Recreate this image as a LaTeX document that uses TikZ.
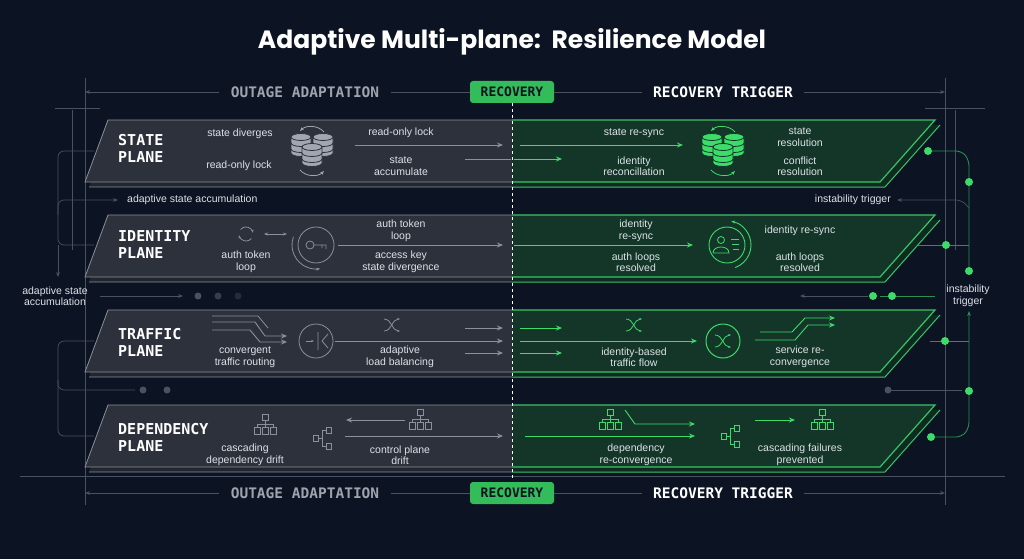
\documentclass[tikz,border=0pt]{standalone}
\usepackage{fontspec}
\setmainfont{Liberation Sans}
\newfontfamily\monofont{DejaVu Sans Mono}
\newfontfamily\titlefont{Poppins}
\usepackage{tikz}
\usetikzlibrary{arrows.meta}
\usetikzlibrary{positioning, calc}

\definecolor{bgnavy}{HTML}{0C1322}
\definecolor{planegray}{HTML}{2C313C}
\definecolor{shadegray}{HTML}{22262F}
\definecolor{edgegray}{HTML}{8A909C}
\definecolor{planegreen}{HTML}{133628}
\definecolor{shadegreen}{HTML}{0F2A20}
\definecolor{edgegreen}{HTML}{3BC466}
\definecolor{brightgreen}{HTML}{3DDC6A}
\definecolor{lighttext}{HTML}{DDE2E8}
\definecolor{dimline}{HTML}{4A5262}

\tikzset{
  txt/.style={text=lighttext, align=center, font=\fontsize{10.5}{11.5}\selectfont, inner sep=1pt},
  planelabel/.style={text=white, align=left, anchor=west, font=\monofont\bfseries\fontsize{15}{17}\selectfont, inner sep=0pt},
  headlabel/.style={text=lighttext!70!bgnavy, font=\monofont\bfseries\fontsize{14.5}{17}\selectfont},
  recbox/.style={fill=brightgreen!85!black, rounded corners=3pt, text=bgnavy, font=\monofont\bfseries\fontsize{13}{15}\selectfont, minimum width=84pt, minimum height=22pt},
  grayarr/.style={draw=edgegray, line width=0.9pt, -{Stealth[length=6pt,width=5pt]}},
  greenarr/.style={draw=brightgreen, line width=0.9pt, -{Stealth[length=6pt,width=5pt]}},
  thin/.style={draw=dimline, line width=0.7pt},
  gdot/.style={circle, fill=brightgreen, inner sep=0pt, minimum size=8pt},
  ddot/.style={circle, fill=dimline, inner sep=0pt, minimum size=7pt},
}

% one plane, #1 = top y
\newcommand{\plane}[1]{%
  \begin{scope}
    \clip (0,#1-10) rectangle (512,#1+80);
    \fill[shadegray] (112,#1+5) -- (940,#1+5) -- (885,#1+67) -- (89,#1+67) -- cycle;
    \draw[edgegray, line width=0.8pt] (89,#1+67) -- (885,#1+67) -- (940,#1+5);
    \fill[planegray] (108,#1) -- (935,#1) -- (880,#1+62) -- (85,#1+62) -- cycle;
    \draw[edgegray, line width=0.8pt] (108,#1) -- (935,#1) -- (880,#1+62) -- (85,#1+62) -- cycle;
  \end{scope}
  \begin{scope}
    \clip (512,#1-10) rectangle (1024,#1+80);
    \fill[shadegreen] (112,#1+5) -- (940,#1+5) -- (885,#1+67) -- (89,#1+67) -- cycle;
    \draw[edgegreen, line width=1pt] (89,#1+67) -- (885,#1+67) -- (940,#1+5);
    \fill[planegreen] (108,#1) -- (935,#1) -- (880,#1+62) -- (85,#1+62) -- cycle;
    \draw[edgegreen, line width=1.2pt] (108,#1) -- (935,#1) -- (880,#1+62) -- (85,#1+62) -- cycle;
  \end{scope}}

% database stack, #1 = position, #2 = colour, #3 = plane colour
\newcommand{\dbicon}[3]{%
  \begin{scope}[shift={#1}]
    \foreach \dx/\dy in {-11/-5,11/-5,0/5} {
      \filldraw[fill=#2, draw=#3, line width=0.8pt] (\dx-10,\dy-8) -- (\dx-10,\dy+8) arc (180:0:10 and 3.5) -- (\dx+10,\dy-8) arc (0:-180:10 and 3.5) -- cycle;
      \draw[#3, line width=0.8pt] (\dx-10,\dy-8) arc (180:0:10 and 3.5);
      \draw[#3, line width=0.8pt] (\dx-10,\dy-2) arc (180:0:10 and 3.5);
      \draw[#3, line width=0.8pt] (\dx-10,\dy+4) arc (180:0:10 and 3.5);
    }
    \draw[#2, line width=0.8pt, -{Stealth[length=4pt]}] (12,-18) .. controls (6,-25) and (-6,-25) .. (-12,-19);
    \draw[#2, line width=0.8pt, -{Stealth[length=4pt]}] (-12,20) .. controls (-6,27) and (6,27) .. (12,21);
  \end{scope}}

% tree icon, #1 = position, #2 = colour
\newcommand{\treeicon}[2]{%
  \begin{scope}[shift={#1}, #2, line width=0.8pt]
    \draw (-3,-11) rectangle (3,-5);
    \draw (0,-5) -- (0,-1) (-8,-1) -- (8,-1) (-8,-1) -- (-8,2) (0,-1) -- (0,2) (8,-1) -- (8,2);
    \draw (-11,2) rectangle (-5,9) (-3,2) rectangle (3,9) (5,2) rectangle (11,9);
  \end{scope}}

% branch icon, #1 = position, #2 = colour
\newcommand{\branchicon}[2]{%
  \begin{scope}[shift={#1}, #2, line width=0.8pt]
    \draw (-9,-3) rectangle (-4,3);
    \draw (-4,0) -- (0,0) (0,-8) -- (0,8) (0,-8) -- (4,-8) (0,8) -- (4,8);
    \draw (4,-11) rectangle (9,-5) (4,5) rectangle (9,11);
  \end{scope}}

% shuffle icon, #1 = position, #2 = colour
\newcommand{\shuffleicon}[2]{%
  \begin{scope}[shift={#1}, #2, line width=0.8pt, -{Stealth[length=3pt]}]
    \draw (-8,-6) .. controls (0,-6) and (0,6) .. (8,6);
    \draw (-8,6) .. controls (0,6) and (0,-6) .. (8,-6);
  \end{scope}}

\begin{document}
\begin{tikzpicture}[x=1pt, y=-1pt]
  \fill[bgnavy] (0,0) rectangle (1024,559);
  \useasboundingbox (0,0) rectangle (1024,559);

  % title
  \node[text=white, font=\titlefont\bfseries\fontsize{25}{28}\selectfont] (title) at (512,42) {Adaptive Multi-plane:\ \ Resilience Model};

  % frame lines
  \draw[thin] (85,78) -- (85,505) (945,78) -- (945,505);
  \draw[thin] (72,110) -- (72,250) (955,110) -- (955,250);
  \draw[thin] (55,108) -- (100,108) (925,108) -- (985,108);
  \draw[thin] (20,476) -- (1005,476);

  % header and footer
  \foreach \y/\nm in {92/top, 493/bot} {
    \node[headlabel] (outage\nm) at (305,\y) {OUTAGE ADAPTATION};
    \node[recbox] (rec\nm) at (512,\y) {RECOVERY};
    \node[headlabel, text=white] (trigger\nm) at (723,\y) {RECOVERY TRIGGER};
    \draw[thin, -{Stealth[length=5pt]}] (outage\nm.west) ++(-8,0) -- (85,\y);
    \draw[thin] (outage\nm.east) ++(8,0) -- (rec\nm.west);
    \draw[thin] (rec\nm.east) -- ($(trigger\nm.west)+(-8,0)$);
    \draw[thin, -{Stealth[length=5pt]}] (trigger\nm.east) ++(8,0) -- (945,\y);
  }

  % planes
  \plane{120}
  \plane{215}
  \plane{310}
  \plane{405}
  \draw[white, dashed, line width=0.8pt] (512,103) -- (512,478);

  % state plane
  \node[planelabel] (statelbl) at (118,148) {STATE\\PLANE};
  \node[txt] (sdiv) at (240,134) {state diverges};
  \node[txt] (sro) at (239,166) {read-only lock};
  \dbicon{(312,150)}{edgegray!80}{planegray}
  \node[txt] (sro2) at (401,133) {read-only lock};
  \node[txt] (sacc) at (401,166) {state\\accumulate};
  \draw[grayarr] (355,145) -- (503,145);
  \draw[edgegray, line width=0.9pt] (465,159) -- (511,159);
  \draw[greenarr] (520,145) -- (683,145);
  \draw[greenarr] (514,159) -- (562,159);
  \node[txt] (sresync) at (634,133) {state re-sync};
  \node[txt] (idrec) at (634,166) {identity\\reconcillation};
  \dbicon{(723,150)}{brightgreen}{planegreen}
  \node[txt] (sres) at (800,137) {state\\resolution};
  \node[txt] (cres) at (800,166) {conflict\\resolution};

  % identity plane
  \node[planelabel] (idlbl) at (118,245) {IDENTITY\\PLANE};
  \draw[edgegray, line width=0.8pt, -{Stealth[length=3pt]}] (246,234) ++(40:7) arc (40:170:7);
  \draw[edgegray, line width=0.8pt, -{Stealth[length=3pt]}] (246,234) ++(220:7) arc (220:350:7);
  \draw[edgegray, line width=0.8pt, {Stealth[length=4pt]}-{Stealth[length=4pt]}] (264,234) -- (287,234);
  \node[txt] (atl) at (246,262) {auth token\\loop};
  \node[circle, draw=edgegray, line width=0.8pt, minimum size=36pt] (keyc) at (316,245) {};
  \draw[edgegray, line width=0.8pt, -{Stealth[length=4pt]}] (316,245) ++(200:24) arc (200:80:24);
  \draw[edgegray, line width=0.8pt] (310,245) circle (4) (314,245) -- (326,245) -- (326,249) (322,245) -- (322,248);
  \node[txt] (atl2) at (401,231) {auth token\\loop};
  \node[txt] (akd) at (401,262) {access key\\state divergence};
  \draw[grayarr] (keyc.east) ++(4,0) -- (503,245);
  \draw[greenarr] (514,245) -- (693,245);
  \node[txt] (idrs) at (636,231) {identity\\re-sync};
  \node[txt] (alr) at (636,262) {auth loops\\resolved};
  \node[circle, draw=brightgreen, line width=0.9pt, minimum size=36pt] (userc) at (727,245) {};
  \draw[brightgreen, line width=0.9pt, -{Stealth[length=4pt]}] (727,245) ++(70:24) arc (70:-80:24);
  \draw[brightgreen, line width=0.8pt] (721,240) circle (3.5) (713,253) -- (729,253) .. controls (729,245) and (713,245) .. (713,253);
  \draw[brightgreen, line width=0.8pt] (731,239) -- (739,239) (732,244) -- (739,244) (733,249) -- (739,249);
  \node[txt] (idrs2) at (800,231) {identity re-sync};
  \node[txt] (alr2) at (800,262) {auth loops\\resolved};

  % traffic plane
  \node[planelabel] (trlbl) at (118,342) {TRAFFIC\\PLANE};
  \draw[edgegray, line width=0.8pt] (212,316) -- (258,316) -- (268,328);
  \draw[grayarr] (212,322) -- (255,322) -- (265,336) -- (287,336);
  \draw[grayarr] (212,330) -- (250,330) -- (260,342) -- (287,342);
  \node[circle, draw=edgegray, line width=0.8pt, minimum size=34pt] (trc) at (316,341) {};
  \draw[edgegray, line width=0.8pt, -{Stealth[length=3pt]}] (306,341) -- (314,341);
  \draw[edgegray, line width=0.8pt] (318,332) -- (318,350) (322,341) -- (328,334) (322,341) -- (328,348);
  \node[txt] (ctr) at (245,357) {convergent\\traffic routing};
  \shuffleicon{(392,325)}{edgegray}
  \node[txt] (alb) at (400,357) {adaptive\\load balancing};
  \draw[grayarr] (trc.east) ++(2,0) -- (503,341);
  \draw[grayarr] (465,328) -- (503,328);
  \draw[grayarr] (465,353) -- (503,353);
  \draw[greenarr] (520,328) -- (562,328);
  \draw[greenarr] (520,353) -- (562,353);
  \draw[greenarr] (520,341) -- (697,341);
  \shuffleicon{(634,325)}{brightgreen}
  \node[txt] (ibt) at (634,357) {identity-based\\traffic flow};
  \node[circle, draw=brightgreen, line width=1pt, minimum size=34pt] (trc2) at (723,341) {};
  \shuffleicon{(723,341)}{brightgreen}
  \node[txt] (src) at (800,357) {service re-\\convergence};
  \draw[greenarr] (755,340) -- (795,340) -- (808,325) -- (835,325);
  \draw[greenarr] (760,332) -- (792,332) -- (805,318) -- (835,318);

  % dependency plane
  \node[planelabel] (deplbl) at (118,437) {DEPENDENCY\\PLANE};
  \treeicon{(265,425)}{edgegray}
  \node[txt] (cdd) at (245,455) {cascading\\dependency drift};
  \branchicon{(322,438)}{edgegray}
  \draw[grayarr] (405,420) -- (346,420);
  \treeicon{(420,420)}{edgegray}
  \draw[grayarr] (345,436) -- (503,436);
  \node[txt] (cpd) at (400,455) {control plane\\drift};
  \treeicon{(610,420)}{brightgreen}
  \draw[greenarr] (625,410) -- (635,424) -- (695,424);
  \draw[greenarr] (525,436) -- (695,436);
  \branchicon{(730,436)}{brightgreen}
  \draw[greenarr] (755,420) -- (795,420);
  \treeicon{(822,420)}{brightgreen}
  \node[txt] (drc) at (636,455) {dependency\\re-convergence};
  \node[txt] (cfp) at (800,455) {cascading failures\\prevented};

  % left feedback
  \draw[thin, rounded corners=6pt] (94,151) -- (58,151) -- (58,245) -- (94,245);
  \draw[thin, -{Stealth[length=5pt]}] (58,245) -- (58,277);
  \draw[thin, rounded corners=6pt, -{Stealth[length=5pt]}] (58,215) -- (58,200) -- (118,200);
  \node[txt, anchor=west] (asa) at (126,200) {adaptive state accumulation};
  \node[txt] (asa2) at (55,296) {adaptive state\\accumulation};
  \draw[thin, -{Stealth[length=5pt]}] (100,296) -- (183,296);
  \node[ddot] (ld1) at (198,296) {};
  \node[ddot, fill=dimline!70!bgnavy] (ld2) at (218,296) {};
  \node[ddot, fill=dimline!40!bgnavy] (ld3) at (238,296) {};
  \draw[thin, rounded corners=6pt] (94,341) -- (58,341) -- (58,436) -- (94,436);
  \draw[thin, rounded corners=6pt] (58,380) -- (58,390) -- (135,390);
  \node[ddot] (ld4) at (143,390) {};
  \node[ddot] (ld5) at (167,390) {};

  % right feedback
  \draw[edgegreen!70!bgnavy, line width=0.9pt, rounded corners=6pt] (928,151) -- (962,151) -- (969,160) -- (969,271);
  \node[gdot] (rd1) at (928,151) {};
  \node[gdot] (rd2) at (969,182) {};
  \node[gdot] (rd3) at (969,271) {};
  \draw[edgegreen!70!bgnavy, line width=0.9pt] (918,245) -- (969,245);
  \node[gdot] (rd4) at (946,245) {};
  \draw[thin, rounded corners=6pt, -{Stealth[length=5pt]}] (969,208) -- (962,200) -- (897,200);
  \node[txt, anchor=east] (inst) at (892,200) {instability trigger};
  \node[txt] (inst2) at (968,296) {instability\\trigger};
  \draw[edgegreen!70!bgnavy, line width=0.9pt] (935,296) -- (880,296);
  \draw[thin, -{Stealth[length=5pt]}] (868,296) -- (800,296);
  \node[gdot] (rd5) at (892,296) {};
  \node[gdot] (rd6) at (873,296) {};
  \draw[edgegreen!70!bgnavy, line width=0.9pt, rounded corners=6pt, -{Stealth[length=5pt]}] (931,437) -- (962,437) -- (969,428) -- (969,311);
  \draw[edgegreen!70!bgnavy, line width=0.9pt] (930,341) -- (969,341);
  \node[gdot] (rd7) at (945,341) {};
  \node[gdot] (rd8) at (969,391) {};
  \node[gdot] (rd9) at (931,437) {};
  \draw[thin] (888,390) -- (962,390);
  \node[ddot] (rd10) at (888,390) {};
\end{tikzpicture}
\end{document}
